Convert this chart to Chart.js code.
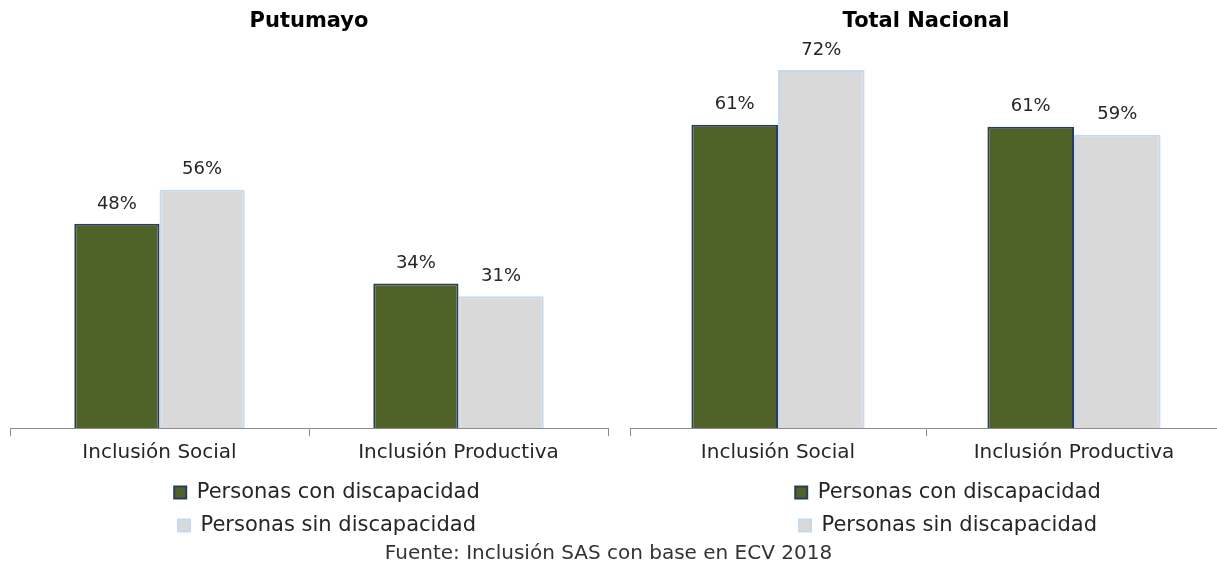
<!DOCTYPE html>
<html>
<head>
<meta charset="utf-8">
<script src="https://cdn.jsdelivr.net/npm/chart.js@4/dist/chart.umd.min.js"></script>
<style>
  html, body { margin: 0; padding: 0; background: #fff; }
  body { width: 1217px; height: 568px; overflow: hidden; position: relative; font-family: "DejaVu Sans", sans-serif; }
  #leftChart { position: absolute; left: 0; top: 0; }
  #rightChart { position: absolute; left: 620px; top: 0; }
  #fuente { position: absolute; left: 0; width: 1217px; top: 540px; text-align: center; font-size: 20px; color: #333; }
</style>
</head>
<body>
<canvas id="leftChart" width="644" height="546"></canvas>
<canvas id="rightChart" width="646" height="546"></canvas>
<div id="fuente">Fuente: Inclusión SAS con base en ECV 2018</div>
<script>
// data
const categories = ['Inclusión Social', 'Inclusión Productiva'];
const seriesNames = ['Personas con discapacidad', 'Personas sin discapacidad'];
const putumayoCon = [48, 34];
const putumayoSin = [56, 31];
const nacionalCon = [61, 60.6];
const nacionalSin = [72, 59];

const GREEN = '#4f6228';
const GREEN_EDGE = '#2b3d5c';
const GRAY = '#d9d9d9';
const GRAY_EDGE = '#c6d9f1';
const FONT = '"DejaVu Sans", sans-serif';

// draws the % over each bar
const valueLabels = {
  id: 'valueLabels',
  afterDatasetsDraw(chart) {
    const ctx = chart.ctx;
    ctx.save();
    ctx.font = '18px ' + FONT;
    ctx.fillStyle = '#262626';
    ctx.textAlign = 'center';
    ctx.textBaseline = 'middle';
    chart.data.datasets.forEach((ds, i) => {
      chart.getDatasetMeta(i).data.forEach((bar, j) => {
        ctx.fillText(Math.round(ds.data[j]) + '%', bar.x, bar.y - 20);
      });
    });
    ctx.restore();
  }
};

function makeChart(id, title, con, sin, yMax, catPct, sidePad) {
  return new Chart(document.getElementById(id), {
    type: 'bar',
    data: {
      labels: categories,
      datasets: [
        { label: seriesNames[0], data: con, backgroundColor: GREEN, borderColor: GREEN_EDGE,
          borderWidth: 2, borderSkipped: 'bottom' },
        { label: seriesNames[1], data: sin, backgroundColor: GRAY, borderColor: GRAY_EDGE,
          borderWidth: 2, borderSkipped: 'bottom' }
      ]
    },
    options: {
      responsive: false,
      animation: false,
      layout: { padding: { left: 10, right: 0, top: 0, bottom: 0 } },
      datasets: { bar: { barPercentage: 1, categoryPercentage: catPct } },
      scales: {
        x: {
          grid: { display: true, drawOnChartArea: false, drawTicks: true, tickLength: 8, color: '#8c8c8c', offset: true },
          border: { display: true, color: '#8c8c8c', width: 1 },
          ticks: { font: { family: FONT, size: 20 }, color: '#262626', padding: 5 }
        },
        y: {
          position: 'right',
          min: 0, max: yMax,
          ticks: { display: false },
          grid: { display: false },
          border: { display: false },
          // empty strip so the legend sits off-centre like the original
          afterFit(scale) { scale.width = sidePad; }
        }
      },
      plugins: {
        title: {
          display: true, text: title, fullSize: false,
          font: { family: FONT, size: 21, weight: 'bold' }, color: '#000',
          padding: { top: 9, bottom: 11 }
        },
        legend: {
          position: 'bottom',
          labels: {
            font: { family: FONT, size: 21 }, color: '#262626',
            boxWidth: 12, boxHeight: 12, padding: 12
          }
        },
        tooltip: { enabled: false }
      }
    },
    plugins: [valueLabels]
  });
}

makeChart('leftChart', 'Putumayo', putumayoCon, putumayoSin, 90, 0.57, 36);
makeChart('rightChart', 'Total Nacional', nacionalCon, nacionalSin, 77, 0.585, 44);
</script>
</body>
</html>
